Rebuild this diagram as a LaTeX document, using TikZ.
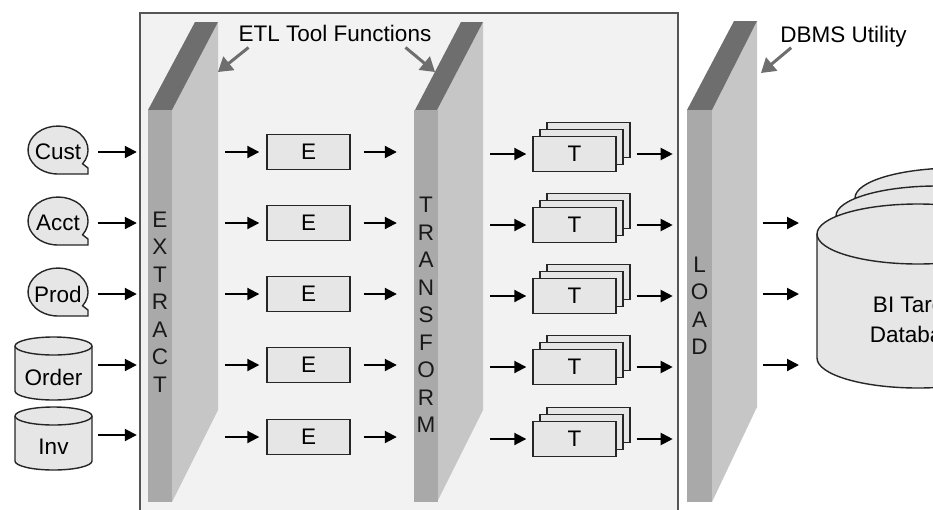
\documentclass[tikz,border=0pt]{standalone}
\usepackage{fontspec}
\setmainfont{Liberation Sans}
\usetikzlibrary{arrows.meta}

\definecolor{boxgray}{HTML}{F2F2F2}
\definecolor{shapegray}{HTML}{E6E6E6}
\definecolor{frontgray}{HTML}{A9A9A9}
\definecolor{sidegray}{HTML}{C6C6C6}
\definecolor{topgray}{HTML}{6E6E6E}
\definecolor{linegray}{HTML}{555555}

\begin{document}
\begin{tikzpicture}[x=1pt, y=-1pt, font=\fontsize{22.5}{27.5}\selectfont,
    arr/.style={-{Triangle[length=12pt,width=12pt]}, line width=2pt},
    callout/.style={draw=topgray, -{Triangle[length=14pt,width=17pt]}, line width=3pt},
    shapeline/.style={draw=black!85, line width=1.4pt, fill=shapegray},
    ebox/.style={shapeline, minimum width=83pt, minimum height=35pt, inner sep=0pt},
    srctext/.style={minimum width=60pt, inner sep=0pt},
    panelface/.style={fill=frontgray, minimum width=24pt, minimum height=392pt, inner sep=0pt},
    letters/.style={align=center, inner sep=0pt, text=black!90}]
        \clip (0,0) rectangle (933,509);

        % ETL tool box
        \node[draw=linegray, line width=1.4pt, fill=boxgray, minimum width=538pt, minimum height=500pt, inner sep=0pt] (etl) at (409,263) {};

        % Panels
        \fill[sidegray] (172,110) -- (218,22) -- (218,410) -- (172,502) -- cycle;
        \fill[topgray] (148,110) -- (172,110) -- (218,22) -- (195,22) -- cycle;
        \node[panelface] (extract) at (160,306) {};
        \node[letters] at (160,302) {E\\X\\T\\R\\A\\C\\T};
        \coordinate (extractback) at (218,72);

        \fill[sidegray] (437,110) -- (483,22) -- (483,410) -- (437,502) -- cycle;
        \fill[topgray] (415,110) -- (437,110) -- (483,22) -- (461,22) -- cycle;
        \node[panelface] (transform) at (426,306) {};
        \node[letters] at (426,315) {T\\R\\A\\N\\S\\F\\O\\R\\M};
        \coordinate (transformtop) at (435,72);
        \coordinate (transformback) at (483,72);

        \fill[sidegray] (712,110) -- (757,21) -- (757,407) -- (712,502) -- cycle;
        \fill[topgray] (687,110) -- (712,110) -- (757,21) -- (734,21) -- cycle;
        \node[panelface, minimum width=25pt] (load) at (699.5,306) {};
        \node[letters] at (699.5,306) {L\\O\\A\\D};
        \coordinate (loadback) at (757,73);

        % Sources
        \foreach \n/\t/\y in {cust/Cust/152, acct/Acct/223, prod/Prod/294} {
            \draw[shapeline] (82.6,\y+11.8) arc[start angle=35, end angle=-270, x radius=30, y radius=24] -- (88,\y+22) -- (88,\y+16) -- cycle;
            \node[srctext] (\n) at (58,\y) {\t};
            \draw[arr, shorten <=10pt, shorten >=11pt] (\n) -- (\n -| extract.west);
        }
        \foreach \n/\t/\top in {order/Order/337, inv/Inv/407} {
            \draw[shapeline] (15,\top+9) -- (15,\top+54) arc[start angle=180, end angle=0, x radius=38.5, y radius=9] -- (92,\top+9) arc[start angle=0, end angle=-180, x radius=38.5, y radius=9] -- cycle;
            \draw[shapeline, fill=none] (15,\top+9) arc[start angle=180, end angle=0, x radius=38.5, y radius=9];
            \node[srctext, minimum width=77pt] (\n) at (53.5,\top+40) {\t};
            \coordinate (\n0) at (98,\top+28);
            \draw[arr, shorten >=11pt] (\n0) -- (\n0 -| extract.west);
        }

        % Extract and transform rows
        \foreach \i/\y in {1/152, 2/223, 3/294, 4/365, 5/437} {
            \node[ebox] (e\i) at (308.5,\y) {E};
            \draw[arr, shorten <=7pt, shorten >=7pt] (e\i -| extractback) -- (e\i);
            \draw[arr, shorten <=13pt, shorten >=17pt] (e\i) -- (e\i -| transform.west);
            \node[ebox] (tc\i) at (588.5,\y-12) {};
            \node[ebox] (tb\i) at (581.5,\y-5) {};
            \node[ebox] (t\i) at (574.5,\y+2) {T};
            \draw[arr, shorten <=7pt, shorten >=6pt] (t\i -| transformback) -- (t\i);
            \draw[arr, shorten <=6pt, shorten >=6pt] (tc\i.east |- t\i) -- (t\i -| etl.east);
        }

        % Target database
        \foreach \dx/\dy in {38/-36, 19/-18, 0/0} {
            \draw[shapeline] (817+\dx,234+\dy) -- (817+\dx,358+\dy) arc[start angle=180, end angle=0, x radius=101, y radius=30] -- (1019+\dx,234+\dy) arc[start angle=0, end angle=-180, x radius=101, y radius=30] -- cycle;
        }
        \draw[shapeline, fill=none] (817,234) arc[start angle=180, end angle=0, x radius=101, y radius=30];
        \node[align=center, font=\fontsize{22.5}{30}\selectfont] (db) at (918,320) {BI Target\\Database};
        \coordinate (dbedge) at (817,294);
        \foreach \i in {2,3,4} {
            \draw[arr, shorten <=6pt, shorten >=18pt] (e\i -| loadback) -- (e\i -| dbedge);
        }

        % Labels
        \node[inner sep=0pt] (etllabel) at (335,33) {ETL Tool Functions};
        \node[inner sep=0pt] (dbmslabel) at (843.5,37) {DBMS Utility};
        \draw[callout] ([xshift=10pt,yshift=-6pt]etllabel.south west) -- (extractback);
        \draw[callout] ([xshift=-26pt,yshift=-6pt]etllabel.south east) -- (transformtop);
        \draw[callout] ([xshift=11pt]dbmslabel.south west) -- ([xshift=4pt]loadback);
    \end{tikzpicture}
\end{document}
